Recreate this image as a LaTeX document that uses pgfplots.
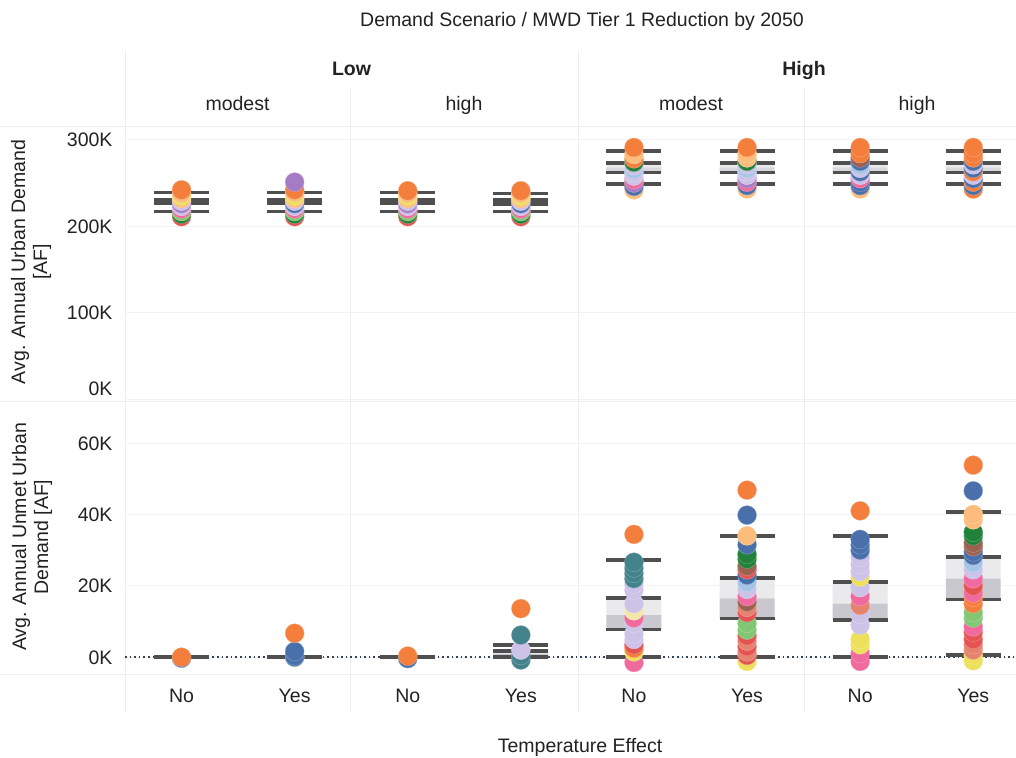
\documentclass[border=0pt]{standalone}
\usepackage{fontspec}
\setmainfont{Liberation Sans}
\usepackage{pgfplots}
\pgfplotsset{compat=1.18}
\usepackage{pgfplotstable}

\definecolor{cOr}{HTML}{F47E3C}
\definecolor{cBl}{HTML}{4A70AC}
\definecolor{cTe}{HTML}{44828C}
\definecolor{cLp}{HTML}{CDC2E8}
\definecolor{cGr}{HTML}{23823A}
\definecolor{cLo}{HTML}{FCBD7C}
\definecolor{cPk}{HTML}{F06A9E}
\definecolor{cRd}{HTML}{E55453}
\definecolor{cSa}{HTML}{E5836F}
\definecolor{cYe}{HTML}{EDE05A}
\definecolor{cLg}{HTML}{82C874}
\definecolor{cBr}{HTML}{9C6151}
\definecolor{cPu}{HTML}{A47CC6}
\definecolor{cLb}{HTML}{A6C4E6}
\definecolor{cLy}{HTML}{F4E8A8}
\definecolor{cLine}{HTML}{4F4F4F}
\definecolor{cSep}{HTML}{EEEEEE}
\definecolor{cGrid}{HTML}{F3F3F3}
\definecolor{cZero}{HTML}{33405A}
\definecolor{cText}{HTML}{222222}
\definecolor{cBoxHi}{HTML}{E6E6EA}
\definecolor{cBoxLo}{HTML}{BEBEC5}

\newcommand{\fsz}{\fontsize{19.5}{22}\selectfont}

\pgfplotstableread{
x y c
0.5 211 rd
0.5 214 gr
0.5 217 lg
0.5 220 pk
0.5 223 lp
0.5 226 pu
0.5 229 lp
0.5 232 lo
0.5 235 ye
0.5 238 lo
0.5 242 or
1.5 211 rd
1.5 214 gr
1.5 217 lg
1.5 220 pk
1.5 223 lp
1.5 226 bl
1.5 229 lp
1.5 232 lo
1.5 235 ye
1.5 239 lo
1.5 242 or
1.5 251 pu
2.5 211 rd
2.5 214 gr
2.5 217 lg
2.5 220 pk
2.5 223 lp
2.5 226 pu
2.5 229 lp
2.5 232 lo
2.5 235 ye
2.5 238 lo
2.5 241 or
3.5 211 rd
3.5 214 gr
3.5 217 lg
3.5 220 pk
3.5 223 lp
3.5 226 bl
3.5 229 lp
3.5 232 lo
3.5 235 ye
3.5 238 lo
3.5 241 or
4.5 242 lo
4.5 246 bl
4.5 250 pu
4.5 254 pk
4.5 258 lp
4.5 262 lp
4.5 266 lb
4.5 270 lp
4.5 274 gr
4.5 278 or
4.5 283 lo
4.5 291 or
5.5 243 lo
5.5 247 bl
5.5 251 pk
5.5 255 pu
5.5 259 lp
5.5 263 lp
5.5 267 lb
5.5 271 lp
5.5 275 gr
5.5 279 lo
5.5 284 lo
5.5 291 or
6.5 243 lo
6.5 247 bl
6.5 251 bl
6.5 255 pk
6.5 259 lp
6.5 263 bl
6.5 267 lp
6.5 271 lb
6.5 275 bl
6.5 279 br
6.5 284 or
6.5 291 or
7.5 243 or
7.5 247 bl
7.5 251 or
7.5 255 bl
7.5 259 lp
7.5 263 or
7.5 267 bl
7.5 271 lp
7.5 275 bl
7.5 279 or
7.5 284 or
7.5 291 or
}\topdots

\pgfplotstableread{
x lw q1 med q3 uw
0.5 217 227 229 231 239
1.5 217 227 229 231 239
2.5 217 227 229 231 239
3.5 217 226 228 230 238
4.5 249 262 268 273 287
5.5 249 262 268 273 287
6.5 249 262 268 273 287
7.5 249 262 268 273 287
}\topstats

\pgfplotstableread{
x y c
0.5 -0.3 bl
0.5 0.0 or
1.5 0.0 lp
1.5 0.0 te
1.5 0.3 bl
1.5 1.6 bl
1.5 6.7 or
2.5 -0.4 bl
2.5 0.3 or
3.5 -0.8 te
3.5 0.5 te
3.5 2.0 lp
3.5 6.2 te
3.5 13.6 or
4.5 -1.5 pk
4.5 1.5 ye
4.5 2.5 or
4.5 3.5 rd
4.5 5.0 lp
4.5 6.5 lp
4.5 9.5 lp
4.5 11.0 pk
4.5 13.0 ly
4.5 15.0 lp
4.5 18.8 lp
4.5 20.5 lp
4.5 22.0 te
4.5 23.5 te
4.5 25.0 te
4.5 26.6 te
4.5 34.4 or
5.5 -1.2 ye
5.5 0.5 rd
5.5 1.5 sa
5.5 3.0 rd
5.5 4.5 sa
5.5 6.0 rd
5.5 7.6 lg
5.5 9.5 lg
5.5 12.5 rd
5.5 14.0 sa
5.5 15.5 br
5.5 17.0 pk
5.5 19.0 lp
5.5 21.0 lb
5.5 23.0 bl
5.5 24.5 rd
5.5 25.5 br
5.5 27.5 gr
5.5 28.8 gr
5.5 31.5 bl
5.5 34.0 lo
5.5 39.8 bl
5.5 46.8 or
6.5 -1.2 pk
6.5 1.0 pk
6.5 3.5 ye
6.5 5.0 ye
6.5 9.0 lp
6.5 12.0 lp
6.5 14.5 sa
6.5 17.0 pk
6.5 19.5 lp
6.5 22.5 ye
6.5 24.0 lp
6.5 26.0 lp
6.5 28.0 lp
6.5 30.0 bl
6.5 31.5 bl
6.5 33.0 bl
6.5 41.0 or
7.5 -1.0 ye
7.5 0.5 ye
7.5 2.0 sa
7.5 3.5 sa
7.5 5.0 rd
7.5 7.0 rd
7.5 8.5 pk
7.5 11.0 lg
7.5 12.5 lg
7.5 15.0 or
7.5 16.8 or
7.5 18.0 pk
7.5 20.0 rd
7.5 22.0 pk
7.5 24.5 lp
7.5 26.5 lb
7.5 28.5 bl
7.5 29.5 bl
7.5 31.0 br
7.5 32.0 br
7.5 34.0 gr
7.5 35.0 gr
7.5 38.5 lo
7.5 40.0 lo
7.5 46.6 bl
7.5 53.8 or
}\botdots

\pgfplotstableread{
x lw q1 med q3 uw
0.5 0 0 0 0 0
1.5 0 0 0 0 0
2.5 0 0 0 0 0
3.5 0 0 0.9 1.8 3.4
4.5 0 7.8 11.8 16.5 27.2
5.5 0 10.8 16.5 22.2 33.9
6.5 0 10.4 15.0 21.1 34.0
7.5 0.6 16.2 22.0 28.1 40.7
}\botstats

\pgfplotsset{
  dotcls/.style={scatter/classes={
    or={draw=cOr!60!white,line width=0.3pt,fill=cOr},
    bl={draw=cBl!60!white,line width=0.3pt,fill=cBl},
    te={draw=cTe!60!white,line width=0.3pt,fill=cTe},
    lp={draw=cLp!60!white,line width=0.3pt,fill=cLp},
    gr={draw=cGr!60!white,line width=0.3pt,fill=cGr},
    lo={draw=cLo!60!white,line width=0.3pt,fill=cLo},
    pk={draw=cPk!60!white,line width=0.3pt,fill=cPk},
    rd={draw=cRd!60!white,line width=0.3pt,fill=cRd},
    sa={draw=cSa!60!white,line width=0.3pt,fill=cSa},
    ye={draw=cYe!60!white,line width=0.3pt,fill=cYe},
    lg={draw=cLg!60!white,line width=0.3pt,fill=cLg},
    br={draw=cBr!60!white,line width=0.3pt,fill=cBr},
    pu={draw=cPu!60!white,line width=0.3pt,fill=cPu},
    lb={draw=cLb!60!white,line width=0.3pt,fill=cLb},
    ly={draw=cLy!60!white,line width=0.3pt,fill=cLy}}},
  common/.style={
    scale only axis, width=891pt, xmin=0, xmax=7.878,
    axis line style={draw=none}, tick style={draw=none},
    ymajorgrids, grid style={cGrid, line width=1pt},
    tick label style={font=\fsz, text=cText},
    yticklabel style={anchor=base east, xshift=-9pt, yshift=-7pt},
  },
  caps/.style={quiver={u=0.486,v=0}, draw=cLine, line width=3.6pt},
}

\begin{document}
\begin{tikzpicture}
\useasboundingbox (0pt,0pt) rectangle (1016pt,757pt);
% pane separators
\draw[cSep, line width=1pt] (125pt,707pt) -- (125pt,45pt);
\draw[cSep, line width=1pt] (578pt,707pt) -- (578pt,45pt);
\draw[cSep, line width=1pt] (350pt,669pt) -- (350pt,45pt);
\draw[cSep, line width=1pt] (804pt,669pt) -- (804pt,45pt);
\draw[cSep, line width=1pt] (0pt,630pt) -- (1016pt,630pt);
\draw[cSep, line width=1pt] (0pt,355pt) -- (1016pt,355pt);
\draw[cSep, line width=1pt] (0pt,82pt) -- (1016pt,82pt);

% top row
\begin{axis}[common, at={(125pt,355pt)}, anchor=south west, height=277pt,
  ymin=-3.2, ymax=317, ytick={0,100,200,300},
  yticklabels={\raisebox{11pt}{0K},100K,200K,300K}, xtick=\empty]
\addplot[scatter, only marks, mark=*, mark size=9.5pt, scatter src=explicit symbolic, dotcls]
  table[x=x, y=y, meta=c] {\topdots};
\addplot[draw=none, fill=cBoxHi, fill opacity=0.8, unbounded coords=jump] coordinates {
(0.257,229) (0.743,229) (0.743,231) (0.257,231) (0.5,nan)
(1.257,229) (1.743,229) (1.743,231) (1.257,231) (1.5,nan)
(2.257,229) (2.743,229) (2.743,231) (2.257,231) (2.5,nan)
(3.257,228) (3.743,228) (3.743,230) (3.257,230) (3.5,nan)
(4.257,268) (4.743,268) (4.743,273) (4.257,273) (4.5,nan)
(5.257,268) (5.743,268) (5.743,273) (5.257,273) (5.5,nan)
(6.257,268) (6.743,268) (6.743,273) (6.257,273) (6.5,nan)
(7.257,268) (7.743,268) (7.743,273) (7.257,273)
};
\addplot[draw=none, fill=cBoxLo, fill opacity=0.6, unbounded coords=jump] coordinates {
(0.257,227) (0.743,227) (0.743,229) (0.257,229) (0.5,nan)
(1.257,227) (1.743,227) (1.743,229) (1.257,229) (1.5,nan)
(2.257,227) (2.743,227) (2.743,229) (2.257,229) (2.5,nan)
(3.257,226) (3.743,226) (3.743,228) (3.257,228) (3.5,nan)
(4.257,262) (4.743,262) (4.743,268) (4.257,268) (4.5,nan)
(5.257,262) (5.743,262) (5.743,268) (5.257,268) (5.5,nan)
(6.257,262) (6.743,262) (6.743,268) (6.257,268) (6.5,nan)
(7.257,262) (7.743,262) (7.743,268) (7.257,268)
};
\addplot[quiver={u=0,v=\thisrow{uw}-\thisrow{q3}}, draw=cLine, line width=1.8pt] table[x=x, y=q3] {\topstats};
\addplot[quiver={u=0,v=\thisrow{q1}-\thisrow{lw}}, draw=cLine, line width=1.8pt] table[x=x, y=lw] {\topstats};
\addplot[caps] table[x expr=\thisrow{x}-0.243, y=lw] {\topstats};
\addplot[caps] table[x expr=\thisrow{x}-0.243, y=q1] {\topstats};
\addplot[caps] table[x expr=\thisrow{x}-0.243, y=q3] {\topstats};
\addplot[caps] table[x expr=\thisrow{x}-0.243, y=uw] {\topstats};
\end{axis}

% bottom row
\begin{axis}[common, at={(125pt,82pt)}, anchor=south west, height=273pt,
  ymin=-5, ymax=71.5, ytick={0,20,40,60}, yticklabels={0K,20K,40K,60K},
  xtick={0.5,1.5,2.5,3.5,4.5,5.5,6.5,7.5},
  xticklabels={No,Yes,No,Yes,No,Yes,No,Yes},
  xticklabel style={anchor=base, yshift=-27pt}]
\addplot[cZero, line width=1.7pt, dash pattern=on 1.6pt off 3pt] coordinates {(0,0) (7.878,0)};
\addplot[scatter, only marks, mark=*, mark size=9.5pt, scatter src=explicit symbolic, dotcls]
  table[x=x, y=y, meta=c] {\botdots};
\addplot[draw=none, fill=cBoxHi, fill opacity=0.85, unbounded coords=jump] coordinates {
(3.257,0.9) (3.743,0.9) (3.743,1.8) (3.257,1.8) (3.5,nan)
(4.257,11.8) (4.743,11.8) (4.743,16.5) (4.257,16.5) (4.5,nan)
(5.257,16.5) (5.743,16.5) (5.743,22.2) (5.257,22.2) (5.5,nan)
(6.257,15.0) (6.743,15.0) (6.743,21.1) (6.257,21.1) (6.5,nan)
(7.257,22.0) (7.743,22.0) (7.743,28.1) (7.257,28.1)
};
\addplot[draw=none, fill=cBoxLo, fill opacity=0.85, unbounded coords=jump] coordinates {
(3.257,0) (3.743,0) (3.743,0.9) (3.257,0.9) (3.5,nan)
(4.257,7.8) (4.743,7.8) (4.743,11.8) (4.257,11.8) (4.5,nan)
(5.257,10.8) (5.743,10.8) (5.743,16.5) (5.257,16.5) (5.5,nan)
(6.257,10.4) (6.743,10.4) (6.743,15.0) (6.257,15.0) (6.5,nan)
(7.257,16.2) (7.743,16.2) (7.743,22.0) (7.257,22.0)
};
\addplot[quiver={u=0,v=\thisrow{uw}-\thisrow{q3}}, draw=cLine, line width=1.8pt] table[x=x, y=q3] {\botstats};
\addplot[quiver={u=0,v=\thisrow{q1}-\thisrow{lw}}, draw=cLine, line width=1.8pt] table[x=x, y=lw] {\botstats};
\addplot[caps] table[x expr=\thisrow{x}-0.243, y=lw] {\botstats};
\addplot[caps] table[x expr=\thisrow{x}-0.243, y=q1] {\botstats};
\addplot[caps] table[x expr=\thisrow{x}-0.243, y=q3] {\botstats};
\addplot[caps] table[x expr=\thisrow{x}-0.243, y=uw] {\botstats};
\end{axis}

% texts
\node[font=\fsz, text=cText, anchor=base] at (582pt,730pt) {Demand Scenario / MWD Tier 1 Reduction by 2050};
\node[font=\fsz\bfseries, text=cText, anchor=base] at (351.5pt,681pt) {Low};
\node[font=\fsz\bfseries, text=cText, anchor=base] at (804pt,681pt) {High};
\node[font=\fsz, text=cText, anchor=base] at (237.5pt,646pt) {modest};
\node[font=\fsz, text=cText, anchor=base] at (464pt,646pt) {high};
\node[font=\fsz, text=cText, anchor=base] at (691pt,646pt) {modest};
\node[font=\fsz, text=cText, anchor=base] at (917pt,646pt) {high};
\node[font=\fsz, text=cText, rotate=90, align=center] at (31pt,495pt) {Avg. Annual Urban Demand\\{[AF]}};
\node[font=\fsz, text=cText, rotate=90, align=center] at (32pt,220pt) {Avg. Annual Unmet Urban\\Demand [AF]};
\node[font=\fsz, text=cText, anchor=base] at (580pt,5pt) {Temperature Effect};
\end{tikzpicture}
\end{document}
